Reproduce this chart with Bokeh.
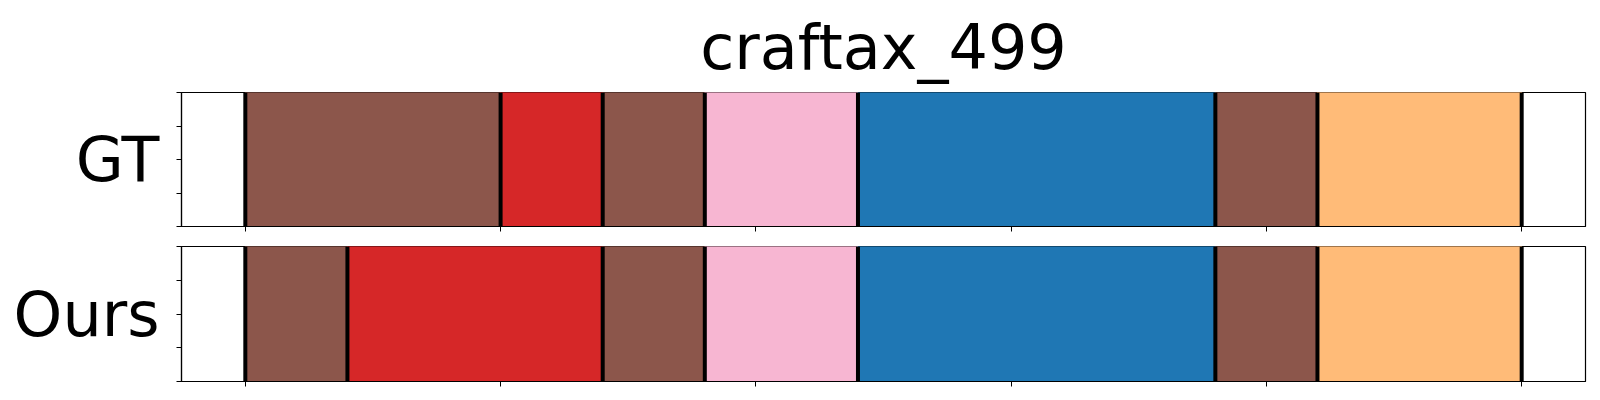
from bokeh.plotting import figure
from bokeh.layouts import column
from bokeh.models import Range1d, FixedTicker, CustomJSTickFormatter
from bokeh.embed import file_html
from bokeh.resources import INLINE

title_text = "craftax_499"
row_labels = ["GT", "Ours"]

gt_bounds = [0, 100, 140, 180, 240, 380, 420, 500]
gt_classes = ["brown", "red", "brown", "pink", "blue", "brown", "orange"]

ours_bounds = [0, 40, 140, 180, 240, 380, 420, 500]
ours_classes = ["brown", "red", "brown", "pink", "blue", "brown", "orange"]

x_ticks = [0, 100, 200, 300, 400, 500]
y_ticks = [0, 0.25, 0.5, 0.75, 1.0]

palette = {
    "brown": "#8c564b",
    "red": "#d62728",
    "pink": "#f7b6d2",
    "blue": "#1f77b4",
    "orange": "#ffbb78",
}

FONT = "DejaVu Sans"


def make(label, bounds, classes, height, top, bottom, title=None):
    p = figure(width=1600, height=height, x_range=Range1d(-25, 525), y_range=Range1d(0, 1),
               output_backend="svg", toolbar_location=None,
               min_border_left=181, min_border_right=15,
               min_border_top=top, min_border_bottom=bottom)
    if title:
        p.title.text = title
        p.title.text_font = FONT
        p.title.text_font_size = "62px"
        p.title.text_font_style = "normal"
        p.title.text_color = "black"
        p.title.align = "center"
        p.title.standoff = 17
    p.grid.visible = False
    p.outline_line_color = "black"
    p.outline_line_width = 1.2
    p.outline_line_alpha = 1
    lefts = bounds[:-1]
    rights = bounds[1:]
    cols = [palette[c] for c in classes]
    p.quad(left=lefts, right=rights, bottom=0, top=1, fill_color=cols, line_color=cols, line_width=1)
    p.segment(x0=bounds, y0=[0] * len(bounds), x1=bounds, y1=[1] * len(bounds),
              line_color="black", line_width=4)
    blank = CustomJSTickFormatter(code="return ''")
    for ax, ticks in ((p.xaxis, x_ticks), (p.yaxis, y_ticks)):
        ax.ticker = FixedTicker(ticks=ticks)
        ax.formatter = blank
        ax.minor_tick_line_color = None
        ax.major_tick_in = 0
        ax.major_tick_out = 5
        ax.major_tick_line_color = "black"
        ax.major_tick_line_width = 1
        ax.axis_line_color = "black"
        ax.axis_line_width = 1.2
        ax.major_label_standoff = 0
        ax.major_label_text_font_size = "1px"
    p.yaxis.axis_label = label
    p.yaxis.axis_label_text_font = FONT
    p.yaxis.axis_label_text_font_size = "62px"
    p.yaxis.axis_label_text_font_style = "normal"
    p.yaxis.axis_label_text_color = "black"
    p.yaxis.axis_label_orientation = "horizontal"
    p.yaxis.axis_label_standoff = 17
    return p


p1 = make(row_labels[0], gt_bounds, gt_classes, 236, 91, 10, title=title_text)
p2 = make(row_labels[1], ours_bounds, ours_classes, 160, 10, 15)

layout = column(p1, p2, spacing=0)
open("out.html", "w").write(file_html(layout, INLINE))
